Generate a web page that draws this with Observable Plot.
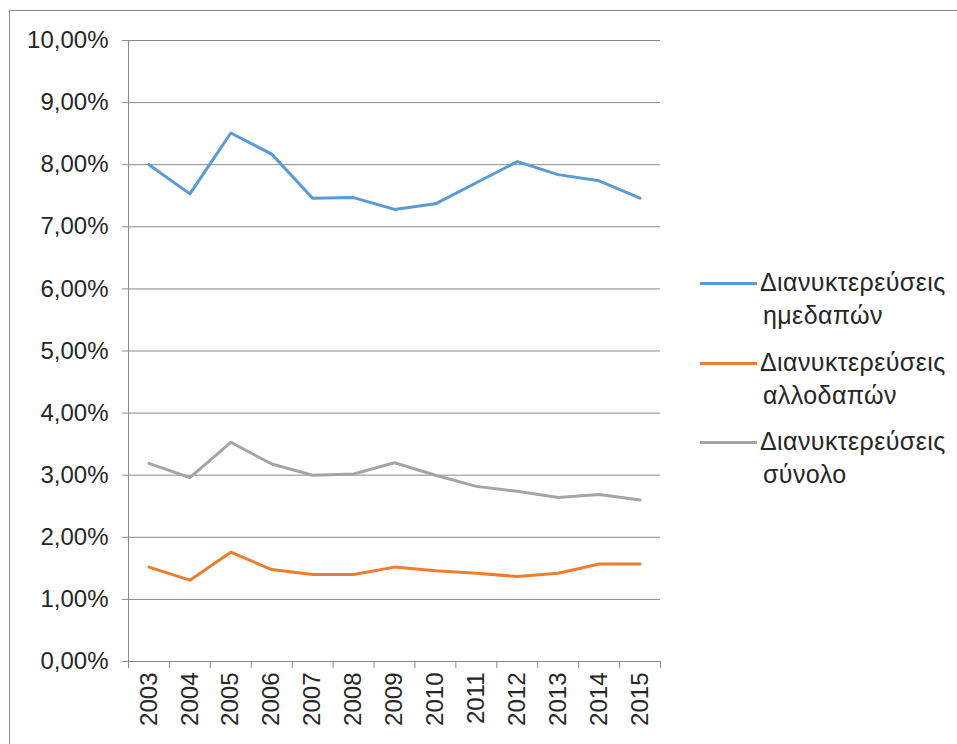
<!DOCTYPE html>
<html><head><meta charset="utf-8">
<script src="https://cdn.jsdelivr.net/npm/d3@7"></script>
<script src="https://cdn.jsdelivr.net/npm/@observablehq/plot@0.6"></script>
<style>
body{margin:0;background:#fff;font-family:"Liberation Sans",Arial,sans-serif;}
#wrap{position:relative;width:957px;height:744px;overflow:hidden;background:#fff;}
#frame{position:absolute;left:9px;top:10px;width:980px;height:780px;border:1px solid #8c8c8c;box-sizing:border-box;}
#chart{position:absolute;left:0;top:0;}
.item{position:absolute;left:700px;display:flex;align-items:flex-start;}
.sw{width:57px;height:3px;margin-top:16px;margin-right:3px;}
.txt{font-size:25px;letter-spacing:0.4px;line-height:33px;color:#262626;white-space:nowrap;}
.txt span{padding-left:3px;}
</style></head>
<body>
<div id="wrap"><div id="frame"></div><div id="chart"></div><div id="legend"></div></div>
<script>
const years = [2003, 2004, 2005, 2006, 2007, 2008, 2009, 2010, 2011, 2012, 2013, 2014, 2015];
const domestic = [8.00, 7.53, 8.51, 8.17, 7.46, 7.47, 7.28, 7.37, 7.71, 8.05, 7.84, 7.74, 7.46];
const foreign = [1.52, 1.31, 1.76, 1.48, 1.40, 1.40, 1.52, 1.46, 1.42, 1.37, 1.42, 1.57, 1.57];
const total = [3.19, 2.96, 3.53, 3.18, 3.00, 3.02, 3.20, 3.00, 2.82, 2.74, 2.64, 2.69, 2.60];
const yTicks = [0, 1, 2, 3, 4, 5, 6, 7, 8, 9, 10];
const seriesNames = [["Διανυκτερεύσεις", "ημεδαπών"], ["Διανυκτερεύσεις", "αλλοδαπών"], ["Διανυκτερεύσεις", "σύνολο"]];
const colors = ["#5B9BD5", "#ED7D31", "#A5A5A5"];

const boundaries = [...years.map(y => y - 0.5), years[years.length - 1] + 0.5];
const fmt = d => d.toFixed(2).replace(".", ",") + "%";
const gridColor = "#8a8a8a";

const chart = Plot.plot({
  width: 957, height: 744,
  marginLeft: 128, marginRight: 297, marginTop: 40, marginBottom: 83,
  x: {type: "linear", domain: [boundaries[0], boundaries[boundaries.length - 1]]},
  y: {domain: [0, 10]},
  style: {fontFamily: '"Liberation Sans", Arial, sans-serif', fontSize: "24px", color: "#262626", background: "transparent"},
  marks: [
    Plot.gridY(yTicks, {stroke: gridColor, strokeOpacity: 1}),
    Plot.ruleX([boundaries[0]], {stroke: gridColor}),
    Plot.axisY(yTicks, {tickSize: 6, tickPadding: 14, tickFormat: fmt, stroke: gridColor, label: null}),
    Plot.axisX(boundaries, {tickSize: 7, tickFormat: () => "", stroke: gridColor, label: null}),
    Plot.axisX(years, {tickSize: 0, tickPadding: 11, tickRotate: -90, tickFormat: d => String(d), fontSize: 24, label: null}),
    Plot.lineY(total, {x: years, stroke: colors[2], strokeWidth: 3}),
    Plot.lineY(foreign, {x: years, stroke: colors[1], strokeWidth: 3}),
    Plot.lineY(domestic, {x: years, stroke: colors[0], strokeWidth: 3})
  ]
});
document.getElementById("chart").appendChild(chart);

const tops = [266, 346, 425];
const legend = document.getElementById("legend");
seriesNames.forEach((lines, i) => {
  const it = document.createElement("div");
  it.className = "item";
  it.style.top = tops[i] + "px";
  it.innerHTML = `<div class="sw" style="background:${colors[i]}"></div><div class="txt">${lines[0]}<br><span>${lines[1]}</span></div>`;
  legend.appendChild(it);
});
</script>
</body></html>
